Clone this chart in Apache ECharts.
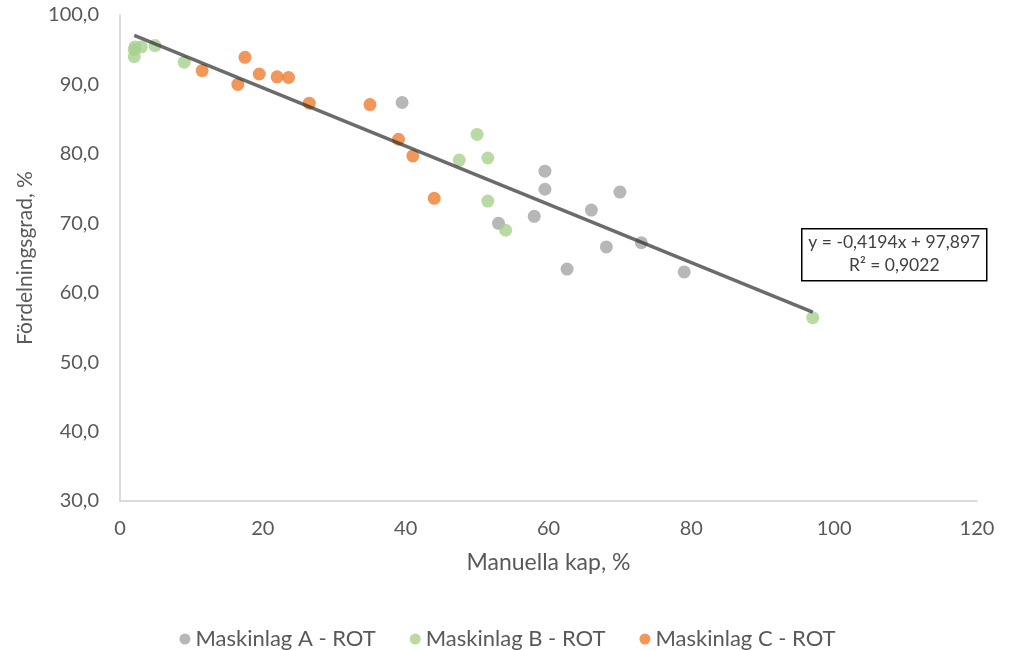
<!DOCTYPE html>
<html>
<head>
<meta charset="utf-8">
<script src="https://cdn.jsdelivr.net/npm/echarts@6/dist/echarts.min.js"></script>
<style>
  html, body { margin: 0; padding: 0; background: #fff; }
  #chartDom { width: 1015px; height: 650px; }
</style>
</head>
<body>
<div id="chartDom"></div>
<script>
// data: [Manuella kap %, Fördelningsgrad %]
const maskinlagA = [
  [39.5, 87.4], [59.5, 77.5], [59.5, 74.9], [70.0, 74.5], [66.0, 71.9],
  [58.0, 71.0], [53.0, 70.0], [68.1, 66.6], [73.0, 67.2], [62.6, 63.4], [79.0, 63.0]
];
const maskinlagB = [
  [2.1, 95.4], [3.0, 95.4], [2.0, 95.0], [2.0, 94.0], [4.9, 95.6], [9.0, 93.2],
  [50.0, 82.8], [47.5, 79.1], [51.5, 79.4], [51.5, 73.2], [54.0, 69.0], [97.0, 56.4]
];
const maskinlagC = [
  [11.5, 92.0], [17.5, 93.9], [16.5, 90.0], [19.5, 91.5], [22.0, 91.1], [23.6, 91.0],
  [26.5, 87.3], [35.0, 87.1], [39.0, 82.1], [41.0, 79.7], [44.0, 73.6]
];
// linear trend line endpoints (y = -0,4194x + 97,897)
const trendLine = [[2, 97.06], [97, 57.21]];
const seriesNames = ["Maskinlag A - ROT", "Maskinlag B - ROT", "Maskinlag C - ROT"];
const trendLabel = ["y = -0,4194x + 97,897", "R\u00b2 = 0,9022"];

const font = "Lato, 'Open Sans', sans-serif";
const chart = echarts.init(document.getElementById("chartDom"));

const options = {
  animation: false,
  textStyle: { fontFamily: font },
  color: ["#a5a5a5", "#a9d18e", "#ed7d31"],
  grid: { left: 120, right: 38, top: 15, bottom: 149 },
  xAxis: {
    type: "value",
    min: 0,
    max: 120,
    interval: 20,
    name: "Manuella kap, %",
    nameLocation: "middle",
    nameGap: 50,
    nameTextStyle: { color: "#595959", fontSize: 23, fontFamily: font },
    axisLine: { show: true, lineStyle: { color: "#d0d0d0", width: 1.5 } },
    axisTick: { show: false },
    splitLine: { show: false },
    axisLabel: { color: "#595959", fontSize: 20, margin: 18 },
  },
  yAxis: {
    type: "value",
    min: 30,
    max: 100,
    interval: 10,
    name: "Fördelningsgrad, %",
    nameLocation: "middle",
    nameGap: 84,
    nameTextStyle: { color: "#595959", fontSize: 21, fontFamily: font },
    axisLine: { show: true, lineStyle: { color: "#d0d0d0", width: 1.5 } },
    axisTick: { show: false },
    splitLine: { show: false },
    axisLabel: {
      color: "#595959",
      fontSize: 20,
      margin: 21,
      formatter: (v) => v.toFixed(1).replace(".", ","),
    },
  },
  legend: {
    data: seriesNames,
    top: 623,
    left: "center",
    icon: "circle",
    itemWidth: 11,
    itemHeight: 11,
    itemGap: 34,
    selectedMode: false,
    textStyle: { color: "#595959", fontSize: 22, fontFamily: font },
  },
  series: [
    { name: seriesNames[0], type: "scatter", symbolSize: 13, data: maskinlagA },
    { name: seriesNames[1], type: "scatter", symbolSize: 13, data: maskinlagB },
    { name: seriesNames[2], type: "scatter", symbolSize: 13, data: maskinlagC },
    {
      name: "trend",
      type: "line",
      data: trendLine,
      symbol: "none",
      z: 5,
      lineStyle: { color: "#2c2c2c", width: 3.5, opacity: 0.7 },
    },
  ],
  graphic: [
    {
      type: "group",
      left: 801,
      top: 228,
      children: [
        {
          type: "rect",
          shape: { x: 0, y: 0, width: 185, height: 52 },
          style: { fill: "#fff", stroke: "#000", lineWidth: 1.5 },
        },
        {
          type: "text",
          x: 92.5,
          y: 14,
          style: { text: trendLabel[0], fill: "#404040", fontSize: 17.5, fontFamily: font, align: "center", verticalAlign: "middle" },
        },
        {
          type: "text",
          x: 92.5,
          y: 37,
          style: { text: trendLabel[1], fill: "#404040", fontSize: 17.5, fontFamily: font, align: "center", verticalAlign: "middle" },
        },
      ],
    },
  ],
};
chart.setOption(options);
</script>
</body>
</html>
